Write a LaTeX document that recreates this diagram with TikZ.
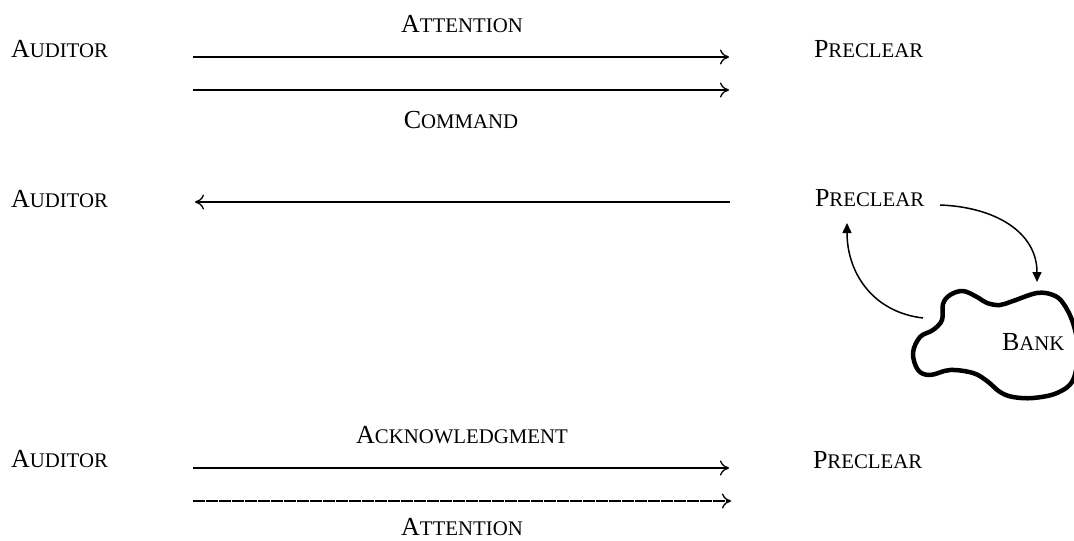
\documentclass[tikz,border=0pt]{standalone}
\usepackage{fontspec}
\setmainfont{Liberation Serif}
\usetikzlibrary{arrows.meta}
\newcommand{\SCap}[2]{{\fontsize{26}{30}\selectfont #1}{\fontsize{20.8}{30}\selectfont #2}}
\tikzset{
  lbl/.style={inner sep=0pt, outer sep=0pt, anchor=base west},
  clbl/.style={inner sep=0pt, outer sep=0pt, anchor=base},
  msg/.style={line width=1.2pt, -{To[length=9pt,width=15pt,line width=1.3pt]}},
  loopar/.style={line width=1.5pt, -{Triangle[length=10pt,width=9pt]}},
  blob/.style={line width=4.5pt, line join=round}
}
\begin{document}
\begin{tikzpicture}[x=1pt,y=-1pt]
\useasboundingbox (0,0) rectangle (1074,541);
% row 1
\node[lbl] (a1) at (11,57) {\SCap{A}{UDITOR}};
\node[lbl] (p1) at (814,57) {\SCap{P}{RECLEAR}};
\coordinate (s1) at (193,57); \coordinate (e1) at (729,57);
\coordinate (s2) at (193,90); \coordinate (e2) at (729,90);
\draw[msg] (s1) -- (e1);
\draw[msg] (s2) -- (e2);
\node[clbl] (t1) at (462,32) {\SCap{A}{TTENTION}};
\node[clbl] (t2) at (461,128) {\SCap{C}{OMMAND}};
% row 2
\node[lbl] (a2) at (11,207) {\SCap{A}{UDITOR}};
\node[lbl] (p2) at (815,206) {\SCap{P}{RECLEAR}};
\coordinate (s3) at (730,202); \coordinate (e3) at (195,202);
\draw[msg] (s3) -- (e3);
% bank blob
\draw[blob] plot[smooth cycle, tension=0.6] coordinates {
 (942,320) (943,304) (950,295) (963,291) (977,297) (987,303) (1000,305) (1013,301)
 (1037,293) (1053,295) (1063,303) (1073,323) (1078,350) (1073,380) (1057,393)
 (1033,398) (1013,397) (1000,392) (987,381) (973,373) (950,370) (930,375) (918,370)
 (913,353) (920,337) (933,330)};
\node[lbl] (bank) at (1002,350) {\SCap{B}{ANK}};
\coordinate (c1s) at (940,205); \coordinate (c1e) at (1037,282);
\draw[loopar] (c1s) .. controls (995,207) and (1037,232) .. (c1e);
\coordinate (c2s) at (923,318); \coordinate (c2e) at (847,223);
\draw[loopar] (c2s) .. controls (872,312) and (847,272) .. (c2e);
% row 3
\node[lbl] (a3) at (11,467) {\SCap{A}{UDITOR}};
\node[lbl] (p3) at (813,468) {\SCap{P}{RECLEAR}};
\coordinate (s4) at (193,468); \coordinate (e4) at (729,468);
\coordinate (s5) at (193,501); \coordinate (e5) at (731,501);
\draw[msg] (s4) -- (e4);
\draw[msg, dash pattern=on 11.5pt off 1.5pt] (s5) -- (e5);
\node[clbl] (t3) at (462,443) {\SCap{A}{CKNOWLEDGMENT}};
\node[clbl] (t4) at (462,535) {\SCap{A}{TTENTION}};
\end{tikzpicture}
\end{document}
